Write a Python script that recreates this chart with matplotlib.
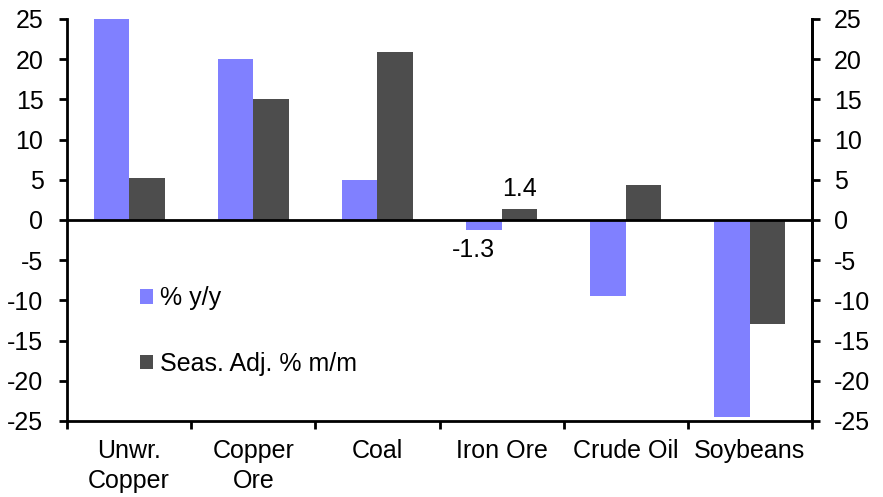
import numpy as np
import matplotlib
matplotlib.use("Agg")
import matplotlib.pyplot as plt

plt.rcParams['font.family'] = ['Liberation Sans', 'DejaVu Sans']
plt.rcParams['axes.unicode_minus'] = False

categories = ["Unwr.\nCopper", "Copper\nOre", "Coal", "Iron Ore", "Crude Oil", "Soybeans"]
yoy = [25.0, 20.0, 5.0, -1.3, -9.4, -24.5]
mom = [5.2, 15.0, 20.9, 1.4, 4.4, -13.0]
yticks = [-25, -20, -15, -10, -5, 0, 5, 10, 15, 20, 25]

purple = "#8080ff"
grey = "#4d4d4d"
fs = 18

fig = plt.figure(figsize=(8.83, 4.97), dpi=100)
ax = fig.add_axes([0.0759, 0.153, 0.8437, 0.8088])

x = np.arange(len(categories))
w = 0.286
ax.bar(x - w/2, yoy, w, color=purple, label="% y/y")
ax.bar(x + w/2, mom, w, color=grey, label="Seas. Adj. % m/m")

ax.set_xlim(-0.5, len(categories) - 0.5)
ax.set_ylim(-25, 25)
ax.axhline(0, color="black", lw=2)

ax.set_yticks(yticks)
ax.tick_params(axis="y", labelsize=fs, width=2, length=6, direction="out", pad=11)
ax.set_xticks(np.arange(len(categories) + 1) - 0.5)
ax.set_xticklabels([])
ax.set_xticks(x, minor=True)
ax.set_xticklabels(categories, minor=True, fontsize=fs, linespacing=1.3)
ax.tick_params(axis="x", which="major", width=2, length=6, direction="out")
ax.tick_params(axis="x", which="minor", length=0, pad=13)

for s in ["left", "right", "bottom"]:
    ax.spines[s].set_linewidth(2)
ax.spines["top"].set_visible(False)

ax2 = ax.twinx()
ax2.set_ylim(-25, 25)
ax2.set_yticks(yticks)
ax2.tick_params(axis="y", labelsize=fs, width=2, length=6, direction="out", pad=10)
ax2.spines["right"].set_linewidth(2)
ax2.spines["top"].set_visible(False)
ax2.spines["left"].set_visible(False)
ax2.spines["bottom"].set_visible(False)

# data labels for iron ore
ax.text(x[3] + w/2, mom[3] + 1.0, "1.4", ha="center", va="bottom", fontsize=fs)
ax.text(x[3] - w/2 - 0.08, yoy[3] - 0.9, "-1.3", ha="center", va="top", fontsize=fs)

ax.legend(loc="upper left", bbox_to_anchor=(0.098, 0.335), frameon=False,
          fontsize=fs, handlelength=0.5, handleheight=0.5, handletextpad=0.3,
          labelspacing=1.65, borderpad=0, borderaxespad=0)

fig.savefig("out.png", dpi=100)
